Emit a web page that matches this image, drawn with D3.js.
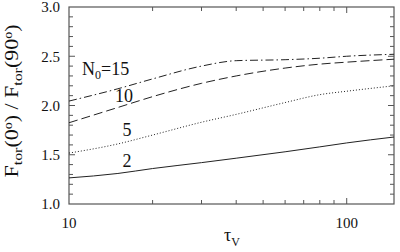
<!DOCTYPE html>
<html><head><meta charset="utf-8">
<script src="https://cdn.jsdelivr.net/npm/d3@7"></script>
<style>
html,body{margin:0;padding:0;background:#fff;}
text{font-family:"Liberation Serif","Times New Roman",serif;fill:#111;}
</style></head>
<body><svg id="c" width="400" height="252"></svg>
<script>
const tau = [10, 15, 20, 30, 40, 60, 80, 100, 148];
const n2  = [1.265, 1.31, 1.36, 1.42, 1.465, 1.53, 1.58, 1.62, 1.68];
const n5  = [1.517, 1.61, 1.70, 1.83, 1.91, 2.03, 2.11, 2.145, 2.20];
const n10 = [1.825, 1.98, 2.09, 2.225, 2.30, 2.38, 2.42, 2.44, 2.47];
const n15 = [2.045, 2.17, 2.27, 2.40, 2.455, 2.465, 2.48, 2.50, 2.52];
const seriesNames = ["2", "5", "10", "N0=15"];
const yTickLabels = ["1.0", "1.5", "2.0", "2.5", "3.0"];
const xTickLabels = ["10", "100"];

const svg = d3.select("#c");
const L = 69, R = 394, T = 7, B = 204;
const x = d3.scaleLog().domain([10, 148]).range([L, R]);
const y = d3.scaleLinear().domain([1.0, 3.0]).range([B, T]);
const axisColor = "#555";

// frame
svg.append("rect").attr("x", L).attr("y", T).attr("width", R - L).attr("height", B - T)
  .attr("fill", "none").attr("stroke", axisColor).attr("stroke-width", 1.2);

// x ticks
const xMinor = [20, 30, 40, 50, 60, 70, 80, 90];
const xMajor = [100];
const tg = svg.append("g").attr("stroke", axisColor).attr("stroke-width", 1);
xMinor.forEach(v => {
  tg.append("line").attr("x1", x(v)).attr("x2", x(v)).attr("y1", B).attr("y2", B - 4);
  tg.append("line").attr("x1", x(v)).attr("x2", x(v)).attr("y1", T).attr("y2", T + 4);
});
xMajor.forEach(v => {
  tg.append("line").attr("x1", x(v)).attr("x2", x(v)).attr("y1", B).attr("y2", B - 6);
  tg.append("line").attr("x1", x(v)).attr("x2", x(v)).attr("y1", T).attr("y2", T + 6);
});
// y ticks
d3.range(11, 30).forEach(i => {
  const v = i / 10;
  const major = i % 5 === 0;
  const len = major ? 6 : 4;
  tg.append("line").attr("x1", L).attr("x2", L + len).attr("y1", y(v)).attr("y2", y(v));
  tg.append("line").attr("x1", R).attr("x2", R - len).attr("y1", y(v)).attr("y2", y(v));
});

// tick labels
yTickLabels.forEach(s => {
  svg.append("text").attr("x", 60).attr("y", y(+s)).attr("dy", "0.35em")
    .attr("text-anchor", "end").attr("font-size", 15).text(s);
});
xTickLabels.forEach(s => {
  svg.append("text").attr("x", x(+s)).attr("y", 228)
    .attr("text-anchor", "middle").attr("font-size", 15).text(s);
});

// axis titles
const xt = svg.append("text").attr("x", 232).attr("y", 241).attr("text-anchor", "middle").attr("font-size", 18);
xt.append("tspan").text("τ");
xt.append("tspan").attr("font-size", 12).attr("dy", 5).text("V");

const yt = svg.append("text").attr("transform", "translate(18,101) rotate(-90) scale(1.22,1)")
  .attr("text-anchor", "middle").attr("font-size", 18);
yt.append("tspan").text("F");
yt.append("tspan").attr("font-size", 13).attr("dy", 4).text("tor");
yt.append("tspan").attr("dy", -4).text("(0");
yt.append("tspan").attr("font-size", 11.5).attr("dy", -6).text("o");
yt.append("tspan").attr("dy", 6).text(") / F");
yt.append("tspan").attr("font-size", 13).attr("dy", 4).text("tor");
yt.append("tspan").attr("dy", -4).text("(90");
yt.append("tspan").attr("font-size", 11.5).attr("dy", -6).text("o");
yt.append("tspan").attr("dy", 6).text(")");

// lines
const line = d3.line().x(d => x(d[0])).y(d => y(d[1])).curve(d3.curveMonotoneX);
const series = [
  {vals: n2, dash: null},
  {vals: n5, dash: "1,2"},
  {vals: n10, dash: "9,4"},
  {vals: n15, dash: "8,3,1.5,3"}
];
series.forEach(s => {
  svg.append("path").datum(tau.map((t, i) => [t, s.vals[i]]))
    .attr("d", line).attr("fill", "none").attr("stroke", "#222").attr("stroke-width", 1)
    .attr("stroke-dasharray", s.dash);
});

// series labels
svg.append("text").attr("x", 127).attr("y", 167).attr("text-anchor", "middle").attr("font-size", 18).text(seriesNames[0]);
svg.append("text").attr("x", 127).attr("y", 136).attr("text-anchor", "middle").attr("font-size", 18).text(seriesNames[1]);
svg.append("text").attr("x", 124).attr("y", 102).attr("text-anchor", "middle").attr("font-size", 18).text(seriesNames[2]);
const nl = svg.append("text").attr("x", 82).attr("y", 75).attr("font-size", 18);
nl.append("tspan").text("N");
nl.append("tspan").attr("font-size", 12).attr("dy", 4).text("0");
nl.append("tspan").attr("dy", -4).text("=15");
</script></body></html>
